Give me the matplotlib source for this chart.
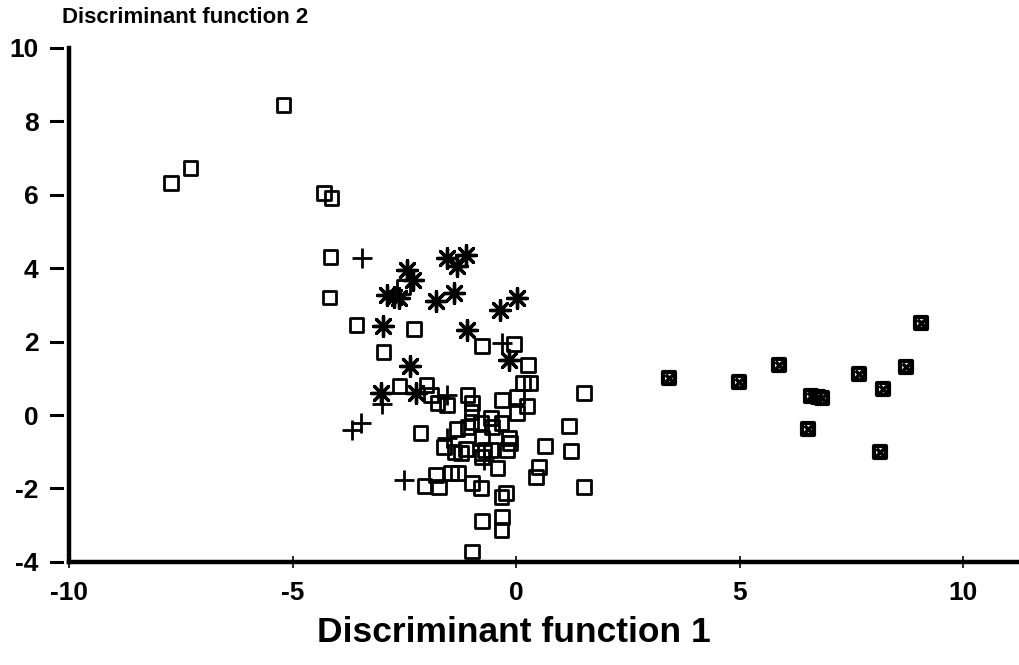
import matplotlib
matplotlib.use("Agg")
import matplotlib.pyplot as plt

# group 1: open squares
sq_x = [-5.2, -7.72, -7.28, -4.29, -4.13, -4.15, -4.17, -3.57, -2.28, -2.97, -2.52,
        -0.76, -0.04, 0.27, 0.15, 0.32,
        -2.61, -2.0, -1.9, -1.76, -1.54, -1.09, -0.98, -1.0, -0.31, 0.02, 0.25, 0.02,
        1.52, -1.32, -1.09, -1.0, -0.78, -0.56, -0.54, -0.33, -2.14, -1.61, -1.38,
        -1.23, -1.12, -0.76, -0.71, -0.56, -0.76, -0.16, -0.2, -0.13, -0.42, 0.65,
        1.18, 1.23, 0.51, 0.45, -1.79, -2.05, -1.72, -1.45, -1.3, -0.98, -0.78,
        -0.33, -0.22, -0.76, -0.31, -0.33, -0.98, 1.52]
sq_y = [8.45, 6.32, 6.73, 6.05, 5.91, 4.3, 3.2, 2.45, 2.34, 1.72, 3.49,
        1.88, 1.93, 1.36, 0.87, 0.87,
        0.79, 0.82, 0.55, 0.33, 0.27, 0.55, 0.33, 0.08, 0.41, 0.49, 0.25, 0.05,
        0.6, -0.38, -0.33, -0.19, -0.22, -0.08, -0.33, -0.22, -0.49, -0.87, -1.0,
        -1.04, -0.93, -0.63, -0.95, -0.95, -1.14, -0.63, -0.95, -0.76, -1.44, -0.84,
        -0.3, -0.98, -1.42, -1.69, -1.63, -1.93, -1.96, -1.58, -1.58, -1.85, -1.99,
        -2.23, -2.13, -2.89, -2.78, -3.13, -3.71, -1.96]

# group 2: plus signs
pl_x = [-3.44, -0.31, -1.54, -3.66, -3.46, -2.5, -1.54, -0.71, -2.99]
pl_y = [4.28, 1.96, 0.55, -0.41, -0.22, -1.77, -0.63, -1.23, 0.3]

# group 3: asterisks
as_x = [-2.43, -2.3, -2.88, -2.72, -2.61, -1.54, -1.32, -1.12, -1.38, -1.79,
        0.02, -0.36, -2.97, -1.09, -2.37, -0.16, -3.01, -2.23]
as_y = [3.95, 3.68, 3.27, 3.22, 3.19, 4.28, 4.06, 4.36, 3.32, 3.11,
        3.19, 2.86, 2.43, 2.32, 1.34, 1.5, 0.6, 0.6]

# group 4: crossed squares
cx_x = [3.42, 4.98, 5.89, 6.6, 6.75, 6.85, 6.54, 7.66, 8.21, 8.73, 9.06, 8.15]
cx_y = [1.01, 0.9, 1.36, 0.52, 0.5, 0.47, -0.38, 1.12, 0.71, 1.31, 2.51, -1.01]

xticks = [-10, -5, 0, 5, 10]
yticks = [-4, -2, 0, 2, 4, 6, 8, 10]

plt.rcParams["font.family"] = ["Liberation Sans", "DejaVu Sans"]
plt.rcParams["font.weight"] = "bold"

fig = plt.figure(figsize=(10.19, 6.65), dpi=100)
ax = fig.add_axes([0.0677, 0.155, 0.9323, 0.773])

ax.scatter(sq_x, sq_y, marker="s", s=95, facecolors="none", edgecolors="black",
           linewidths=2.0, zorder=3)
ax.scatter(pl_x, pl_y, marker="+", s=190, color="black", linewidths=2.0, zorder=3)
ax.scatter(as_x, as_y, marker=(8, 2, 0), s=200, color="black", linewidths=2.4, zorder=3)
ax.scatter(cx_x, cx_y, marker="s", s=85, facecolors="white", edgecolors="black",
           linewidths=3.0, zorder=3)
ax.scatter(cx_x, cx_y, marker="x", s=30, color="black", linewidths=2.6, zorder=4)

ax.set_xlim(-10, 11.25)
ax.set_ylim(-4, 10)
ax.set_xticks(xticks)
ax.set_yticks(yticks)
ax.set_xticklabels([str(v) for v in xticks])
ax.set_yticklabels([str(v) for v in yticks])
for s in ("top", "right"):
    ax.spines[s].set_visible(False)
for s in ("left", "bottom"):
    ax.spines[s].set_linewidth(3.2)

# detached y tick dashes, as in the scanned original
ax.tick_params(axis="y", length=0, labelsize=19, pad=22)
for v in yticks:
    ax.plot([-0.019, -0.007], [v, v], color="black", lw=2.2,
            transform=ax.get_yaxis_transform(), clip_on=False)
ax.tick_params(axis="x", direction="inout", length=9, width=1.2, labelsize=19, pad=9)
for lab in ax.get_xticklabels() + ax.get_yticklabels():
    lab.set_fontweight("bold")

ax.set_xlabel("Discriminant function 1", fontsize=25.5, fontweight="bold", labelpad=4)
ax.xaxis.set_label_coords(0.468, -0.105)
fig.text(0.061, 0.973, "Discriminant function 2", fontsize=16, fontweight="bold",
         ha="left", va="center")

fig.savefig("out.png", dpi=100)
